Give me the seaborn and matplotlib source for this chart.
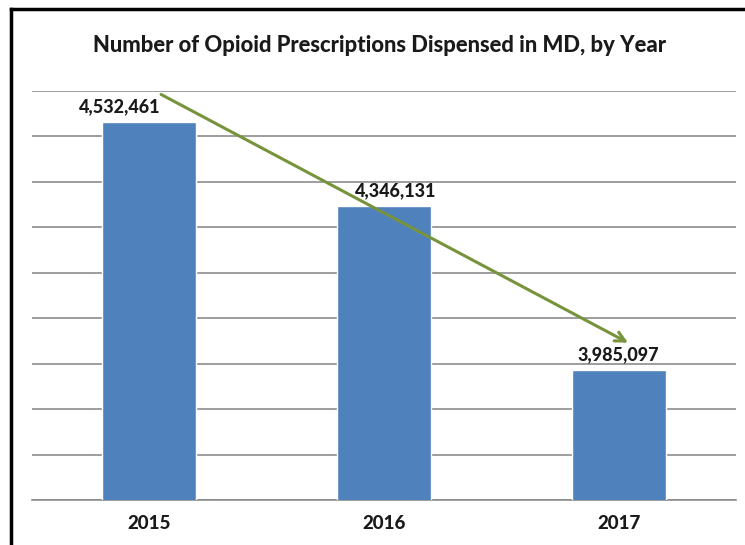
import matplotlib.pyplot as plt
from matplotlib.lines import Line2D
import seaborn as sns

# Data
years = ["2015", "2016", "2017"]
prescriptions = [4532461, 4346131, 3985097]

# label nudges in pixels (the labels were dragged by hand in the original)
label_dx = [-30, 12, 0]

bar_color = "#4F81BD"
grid_color = "#8C8C8C"
arrow_color = "#77933C"

sns.set_style("white")
plt.rcParams["font.family"] = ["Lato", "DejaVu Sans"]

W, H = 745, 545
fig = plt.figure(figsize=(W / 100, H / 100), dpi=100)
ax = fig.add_axes([32 / W, 1 - 500 / H, (736 - 32) / W, (500 - 91) / H])

sns.barplot(x=years, y=prescriptions, color=bar_color, width=0.4,
            saturation=1, ax=ax, zorder=3)

ax.set_ylim(3700000, 4600000)
ax.set_xlim(-0.5, 2.5)
ax.set_yticks(range(3700000, 4600001, 100000))
ax.set_yticklabels([])
ax.tick_params(axis="y", length=0)
ax.grid(axis="y", color=grid_color, linewidth=1.2)
ax.set_axisbelow(True)

for side in ["top", "right", "left"]:
    ax.spines[side].set_visible(False)
ax.spines["bottom"].set_color(grid_color)
ax.spines["bottom"].set_linewidth(1.2)

# category labels without marks, boundary ticks as minor ticks
ax.set_xticks([0, 1, 2])
ax.set_xticklabels(years, fontsize=13.5, fontweight="black", color="#1a1a1a")
ax.tick_params(axis="x", which="major", length=0, pad=11)
ax.set_xticks([-0.5, 0.5, 1.5, 2.5], minor=True)
ax.tick_params(axis="x", which="minor", length=6, width=1.2, color=grid_color)
ax.set_xlabel("")
ax.set_ylabel("")

# value labels
for i, v in enumerate(prescriptions):
    ax.annotate(f"{v:,}", xy=(i, v), xytext=(label_dx[i] * 0.72, 11),
                textcoords="offset points", ha="center", va="center",
                fontsize=13, fontweight="black", color="#1a1a1a", zorder=5)

# trend arrow from above the first bar to above the last bar
ax.annotate("", xy=(2.04, prescriptions[2] + 61000),
            xytext=(0.05, prescriptions[0] + 60000),
            arrowprops=dict(arrowstyle="->,head_length=0.7,head_width=0.35",
                            color=arrow_color, lw=2.2,
                            shrinkA=0, shrinkB=0),
            zorder=6, annotation_clip=False)

fig.text(0.51, 1 - 46 / H, "Number of Opioid Prescriptions Dispensed in MD, by Year",
         ha="center", va="center", fontsize=15.8, fontweight="black", color="#1a1a1a")

# outer frame: only the left and top edges are visible in the original
x0, y0 = 11 / W, 1 - 9 / H
fig.add_artist(Line2D([x0, x0], [0, y0], transform=fig.transFigure,
                      color="black", linewidth=2.5, solid_capstyle="projecting"))
fig.add_artist(Line2D([x0, 1], [y0, y0], transform=fig.transFigure,
                      color="black", linewidth=2.5, solid_capstyle="projecting"))

fig.savefig("out.png", dpi=100)
